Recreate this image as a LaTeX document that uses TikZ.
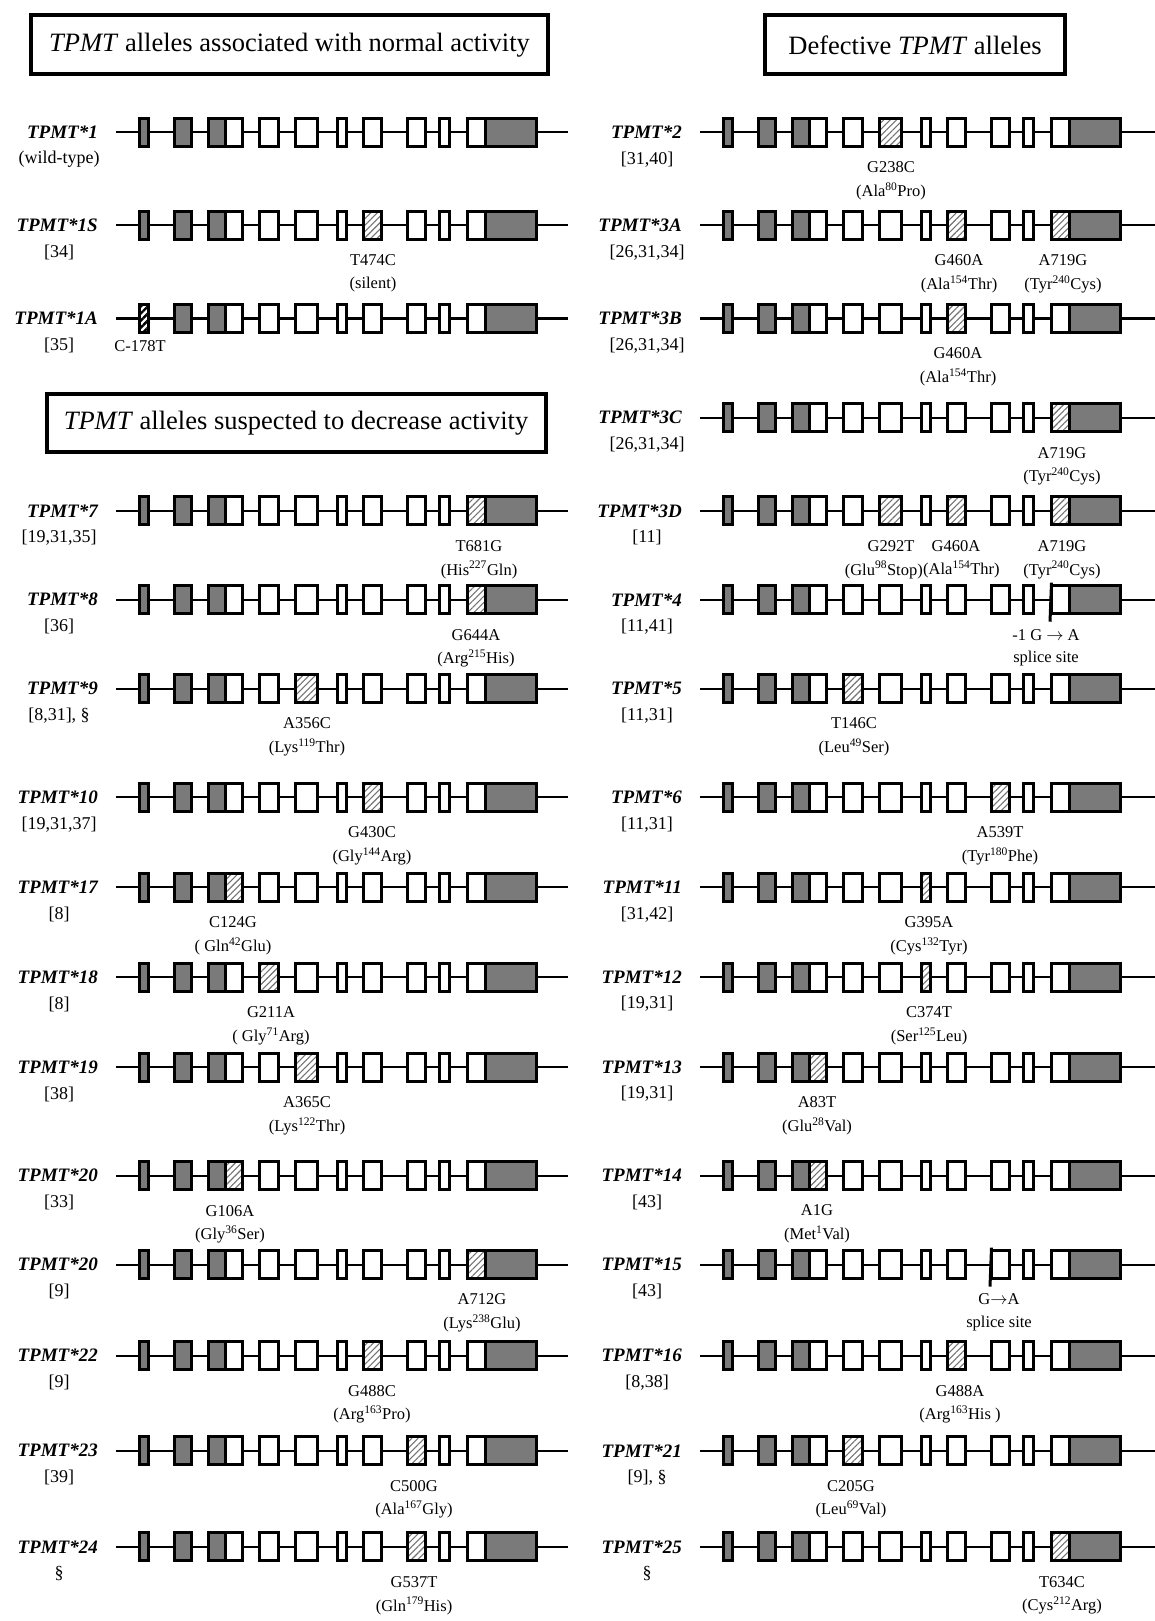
\documentclass[tikz,border=0pt]{standalone}
\usepackage{fontspec}
\setmainfont{Liberation Serif}
\usetikzlibrary{patterns.meta}
\tikzset{
  intron/.style={line width=2.2pt,black},
  gx/.style={draw=black,line width=3pt,fill=black!52},
  wx/.style={draw=black,line width=3pt,fill=white},
  hx/.style={preaction={fill=white},pattern={Lines[angle=45,distance=4.5pt,line width=1.1pt]},pattern color=black!55,draw=black,line width=3pt},
  bx/.style={preaction={fill=white},pattern={Lines[angle=45,distance=5pt,line width=2.4pt]},pattern color=black,draw=black,line width=3pt},
  tickln/.style={line width=3pt,black},
  nm/.style={inner sep=0pt,font=\fontsize{19}{22}\selectfont\bfseries\itshape},
  rf/.style={inner sep=0pt,font=\fontsize{18}{21}\selectfont},
  mt/.style={inner sep=0pt,font=\fontsize{16.5}{19}\selectfont},
  hbox/.style={draw=black,line width=4pt,fill=white,inner sep=0pt,font=\fontsize{26.5}{30}\selectfont}
}
\newcommand\sps[1]{\textsuperscript{#1}}
\newcommand\exon[5]{\draw[#5] ({#1+#3},{#2-14}) rectangle ({#1+#4},{#2+14});}
\newcommand\gene[3]{%
  \draw[intron] ({#1-23},#2) -- (#3,#2);
  \exon{#1}{#2}{0}{9}{gx}\exon{#1}{#2}{35}{52}{gx}\exon{#1}{#2}{69}{86}{gx}\exon{#1}{#2}{86}{103}{wx}%
  \exon{#1}{#2}{120}{139}{wx}\exon{#1}{#2}{156}{178}{wx}\exon{#1}{#2}{198}{207}{wx}\exon{#1}{#2}{224}{242}{wx}%
  \exon{#1}{#2}{268}{286}{wx}\exon{#1}{#2}{300}{310}{wx}\exon{#1}{#2}{328}{346}{wx}\exon{#1}{#2}{346}{397}{gx}}
\newcommand\allele[6]{%
  \node[nm,anchor=east] (#1n) at (#2,#4) {TPMT*#5};
  \node[rf] (#1r) at (#3,{#4+27}) {#6};}
\newcommand\mut[5]{%
  \node[mt] (#1a) at (#2,{#3+35}) {#4};
  \node[mt] (#1b) at (#2,{#3+59}) {#5};}
\def\XL{139}
\def\XR{723}
\begin{document}
\begin{tikzpicture}[x=1pt,y=-1pt]
\useasboundingbox (0,0) rectangle (1155,1621);
\fill[white] (0,0) rectangle (1155,1621);

% headers
\node[hbox,minimum width=517pt,minimum height=59pt] (h1) at (289.5,45) {\textit{TPMT} alleles associated with normal activity};
\node[hbox,minimum width=300pt,minimum height=59pt] (h2) at (915,45) {Defective \textit{TPMT} alleles};
\node[hbox,minimum width=499pt,minimum height=58pt] (h3) at (296,423) {\textit{TPMT} alleles suspected to decrease activity};

% ---------- left column ----------
\gene{\XL}{132.4}{568}
\allele{a1}{98}{59}{132.4}{1}{(wild-type)}

\gene{\XL}{225.4}{568}
\exon{\XL}{225.4}{224}{242}{hx}
\allele{a1s}{98}{59}{225.4}{1S}{[34]}
\mut{m1s}{373}{225.4}{T474C}{(silent)}

\gene{\XL}{318.5}{568}
\exon{\XL}{318.5}{0}{9}{bx}
\allele{a1a}{98}{59}{318.5}{1A}{[35]}
\node[mt] (m1a) at (140,{318.5+28}) {C-178T};

\gene{\XL}{510.8}{568}
\exon{\XL}{510.8}{328}{346}{hx}
\allele{a7}{98}{59}{510.8}{7}{[19,31,35]}
\mut{m7}{479}{510.8}{T681G}{(His\sps{227}Gln)}

\gene{\XL}{599.7}{568}
\exon{\XL}{599.7}{328}{346}{hx}
\allele{a8}{98}{59}{599.7}{8}{[36]}
\mut{m8}{476}{599.7}{G644A}{(Arg\sps{215}His)}

\gene{\XL}{688.6}{568}
\exon{\XL}{688.6}{156}{178}{hx}
\allele{a9}{98}{59}{688.6}{9}{[8,31], §}
\mut{m9}{307}{688.6}{A356C}{(Lys\sps{119}Thr)}

\gene{\XL}{797.2}{568}
\exon{\XL}{797.2}{224}{242}{hx}
\allele{a10}{98}{59}{797.2}{10}{[19,31,37]}
\mut{m10}{372}{797.2}{G430C}{(Gly\sps{144}Arg)}

\gene{\XL}{887.2}{568}
\exon{\XL}{887.2}{86}{103}{hx}
\allele{a17}{98}{59}{887.2}{17}{[8]}
\mut{m17}{233}{887.2}{C124G}{( Gln\sps{42}Glu)}

\gene{\XL}{977.1}{568}
\exon{\XL}{977.1}{120}{139}{hx}
\allele{a18}{98}{59}{977.1}{18}{[8]}
\mut{m18}{271}{977.1}{G211A}{( Gly\sps{71}Arg)}

\gene{\XL}{1067.1}{568}
\exon{\XL}{1067.1}{156}{178}{hx}
\allele{a19}{98}{59}{1067.1}{19}{[38]}
\mut{m19}{307}{1067.1}{A365C}{(Lys\sps{122}Thr)}

\gene{\XL}{1175.6}{568}
\exon{\XL}{1175.6}{86}{103}{hx}
\allele{a20}{98}{59}{1175.6}{20}{[33]}
\mut{m20}{230}{1175.6}{G106A}{(Gly\sps{36}Ser)}

\gene{\XL}{1264.6}{568}
\exon{\XL}{1264.6}{328}{346}{hx}
\allele{a20b}{98}{59}{1264.6}{20}{[9]}
\mut{m20b}{482}{1264.6}{A712G}{(Lys\sps{238}Glu)}

\gene{\XL}{1355.6}{568}
\exon{\XL}{1355.6}{224}{242}{hx}
\allele{a22}{98}{59}{1355.6}{22}{[9]}
\mut{m22}{372}{1355.6}{G488C}{(Arg\sps{163}Pro)}

\gene{\XL}{1450.7}{568}
\exon{\XL}{1450.7}{268}{286}{hx}
\allele{a23}{98}{59}{1450.7}{23}{[39]}
\mut{m23}{414}{1450.7}{C500G}{(Ala\sps{167}Gly)}

\gene{\XL}{1546.8}{568}
\exon{\XL}{1546.8}{268}{286}{hx}
\allele{a24}{98}{59}{1546.8}{24}{§}
\mut{m24}{414}{1546.8}{G537T}{(Gln\sps{179}His)}

% ---------- right column ----------
\gene{\XR}{132.4}{1155}
\exon{\XR}{132.4}{156}{178}{hx}
\allele{b2}{682}{647}{132.4}{2}{[31,40]}
\mut{n2}{891}{132.4}{G238C}{(Ala\sps{80}Pro)}

\gene{\XR}{225.4}{1155}
\exon{\XR}{225.4}{224}{242}{hx}
\exon{\XR}{225.4}{328}{346}{hx}
\allele{b3a}{682}{647}{225.4}{3A}{[26,31,34]}
\mut{n3a}{959}{225.4}{G460A}{(Ala\sps{154}Thr)}
\mut{n3ab}{1063}{225.4}{A719G}{(Tyr\sps{240}Cys)}

\gene{\XR}{318.5}{1155}
\exon{\XR}{318.5}{224}{242}{hx}
\allele{b3b}{682}{647}{318.5}{3B}{[26,31,34]}
\mut{n3b}{958}{318.5}{G460A}{(Ala\sps{154}Thr)}

\gene{\XR}{417.7}{1155}
\exon{\XR}{417.7}{328}{346}{hx}
\allele{b3c}{682}{647}{417.7}{3C}{[26,31,34]}
\mut{n3c}{1062}{417.7}{A719G}{(Tyr\sps{240}Cys)}

\gene{\XR}{510.8}{1155}
\exon{\XR}{510.8}{156}{178}{hx}
\exon{\XR}{510.8}{224}{242}{hx}
\exon{\XR}{510.8}{328}{346}{hx}
\allele{b3d}{682}{647}{510.8}{3D}{[11]}
\node[mt] (n3d1) at (891,{510.8+35}) {G292T};
\node[mt] (n3d2) at (956,{510.8+35}) {G460A};
\node[mt] (n3d3) at (1062,{510.8+35}) {A719G};
\node[mt,anchor=east] (n3d4) at (923,{510.8+59}) {(Glu\sps{98}Stop)};
\node[mt,anchor=west] (n3d5) at (923,{510.8+59}) {(Ala\sps{154}Thr)};
\node[mt] (n3d6) at (1062,{510.8+59}) {(Tyr\sps{240}Cys)};

\gene{\XR}{599.7}{1155}
\draw[tickln] (1051.5,{599.7-17}) -- (1050,{599.7+22});
\allele{b4}{682}{647}{599.7}{4}{[11,41]}
\mut{n4}{1046}{599.7}{-1 G $\rightarrow$ A}{splice site}

\gene{\XR}{688.6}{1155}
\exon{\XR}{688.6}{120}{139}{hx}
\allele{b5}{682}{647}{688.6}{5}{[11,31]}
\mut{n5}{854}{688.6}{T146C}{(Leu\sps{49}Ser)}

\gene{\XR}{797.2}{1155}
\exon{\XR}{797.2}{268}{286}{hx}
\allele{b6}{682}{647}{797.2}{6}{[11,31]}
\mut{n6}{1000}{797.2}{A539T}{(Tyr\sps{180}Phe)}

\gene{\XR}{887.2}{1155}
\exon{\XR}{887.2}{198}{207}{hx}
\allele{b11}{682}{647}{887.2}{11}{[31,42]}
\mut{n11}{929}{887.2}{G395A}{(Cys\sps{132}Tyr)}

\gene{\XR}{977.1}{1155}
\exon{\XR}{977.1}{198}{207}{hx}
\allele{b12}{682}{647}{977.1}{12}{[19,31]}
\mut{n12}{929}{977.1}{C374T}{(Ser\sps{125}Leu)}

\gene{\XR}{1067.1}{1155}
\exon{\XR}{1067.1}{86}{103}{hx}
\allele{b13}{682}{647}{1067.1}{13}{[19,31]}
\mut{n13}{817}{1067.1}{A83T}{(Glu\sps{28}Val)}

\gene{\XR}{1175.6}{1155}
\exon{\XR}{1175.6}{86}{103}{hx}
\allele{b14}{682}{647}{1175.6}{14}{[43]}
\mut{n14}{817}{1175.6}{A1G}{(Met\sps{1}Val)}

\gene{\XR}{1264.6}{1155}
\draw[tickln] (991.5,{1264.6-17}) -- (990,{1264.6+22});
\allele{b15}{682}{647}{1264.6}{15}{[43]}
\mut{n15}{999}{1264.6}{G$\rightarrow$A}{splice site}

\gene{\XR}{1355.6}{1155}
\exon{\XR}{1355.6}{224}{242}{hx}
\allele{b16}{682}{647}{1355.6}{16}{[8,38]}
\mut{n16}{960}{1355.6}{G488A}{(Arg\sps{163}His )}

\gene{\XR}{1450.7}{1155}
\exon{\XR}{1450.7}{120}{139}{hx}
\allele{b21}{682}{647}{1450.7}{21}{[9], §}
\mut{n21}{851}{1450.7}{C205G}{(Leu\sps{69}Val)}

\gene{\XR}{1546.8}{1155}
\exon{\XR}{1546.8}{328}{346}{hx}
\allele{b25}{682}{647}{1546.8}{25}{§}
\mut{n25}{1062}{1546.8}{T634C}{(Cys\sps{212}Arg)}
\end{tikzpicture}
\end{document}
